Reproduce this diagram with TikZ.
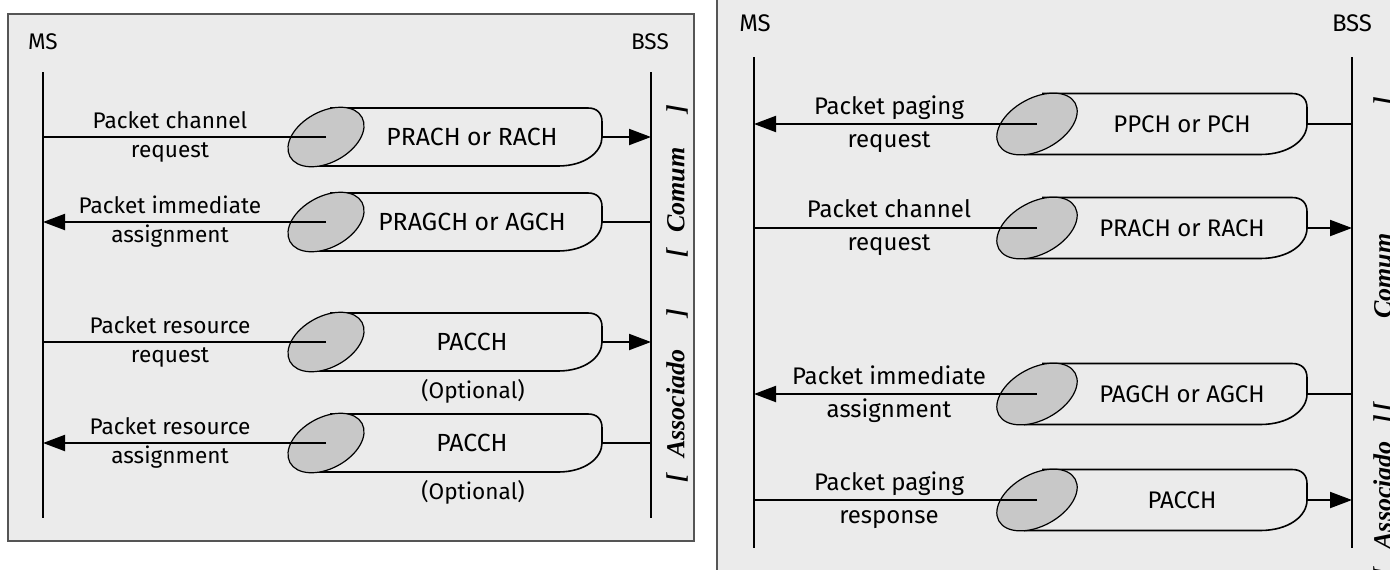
\documentclass[tikz,border=0pt]{standalone}
\usepackage{fontspec}
\setsansfont{Fira Sans}
\newfontfamily\tagfont{Liberation Serif}
\usetikzlibrary{arrows.meta,shapes.geometric}
\definecolor{panelbg}{HTML}{EBEBEB}
\definecolor{chanfill}{HTML}{C8C8C8}
\definecolor{framegray}{HTML}{555555}
\tikzset{
  msg/.style={line width=1pt},
  msgarrow/.style={msg, -{Triangle[length=11pt,width=8pt]}},
  lifeline/.style={line width=1pt},
  chanend/.style={ellipse, draw, fill=chanfill, line width=0.6pt, inner sep=0pt, rotate=28.5},
  tube/.style={draw, fill=panelbg, line width=0.8pt},
  lbl/.style={font=\sffamily\fontsize{11.3}{14.5}\selectfont, align=center, inner sep=0pt},
  lchan/.style={font=\sffamily\fontsize{12.4}{14.5}\selectfont, inner sep=0pt},
  rlbl/.style={font=\sffamily\fontsize{12}{16.5}\selectfont, align=center, inner sep=0pt},
  tag/.style={font=\tagfont\bfseries\itshape\fontsize{13}{15}\selectfont, rotate=90, inner sep=0pt},
}
\begin{document}
\begin{tikzpicture}[x=0.5pt, y=-0.5pt]
  \useasboundingbox (0,0) rectangle (1390,569);
  \clip (0,0) rectangle (1390,569);
  \fill[white] (0,0) rectangle (1390,569);

  % left panel
  \draw[framegray, line width=1pt, fill=panelbg] (8,14) rectangle (694,541);
  \node[lbl] (lms) at (43,42) {MS};
  \node[lbl] (lbss) at (650,42) {BSS};
  \coordinate (lmsA) at (43,72);
  \coordinate (lmsB) at (43,518);
  \coordinate (lbssA) at (651,72);
  \coordinate (lbssB) at (651,518);
  \draw[lifeline] (lmsA) -- (lmsB);
  \draw[lifeline] (lbssA) -- (lbssB);

  \foreach \y/\ta/\tb/\ch/\d [count=\i] in {137/Packet channel/request/PRACH or RACH/1,
      222/Packet immediate/assignment/PRAGCH or AGCH/0,
      342/Packet resource/request/PACCH/1,
      443/Packet resource/assignment/PACCH/0} {
    \coordinate (lm\i) at (43,\y);
    \coordinate (lb\i) at (651,\y);
    \coordinate (lend\i) at (602,\y);
    \draw[tube] (330,{\y-29}) -- (588,{\y-29}) .. controls (597,{\y-29}) and (602,{\y-24}) .. (602,{\y-15})
      -- (602,\y) .. controls (602,{\y+15}) and (585,{\y+29}) .. (558,{\y+29}) -- (314,{\y+29});
    \node[chanend, minimum width=41pt, minimum height=25.5pt] (lch\i) at (326,\y) {};
    \node[lchan] (lname\i) at (472,\y) {\ch};
    \node[lbl] (lmsg\i) at (170,\y) {\ta\\\tb};
    \ifnum\d=1
      \draw[msg] (lch\i.center) -- (lm\i);
      \draw[msgarrow] (lend\i) -- (lb\i);
    \else
      \draw[msgarrow] (lch\i.center) -- (lm\i);
      \draw[msg] (lend\i) -- (lb\i);
    \fi
  }
  \node[lbl] (lopt3) at (473,391) {(Optional)};
  \node[lbl] (lopt4) at (473,492) {(Optional)};
  \node[tag, anchor=west] (lcomum) at (677,258) {[\hspace{8pt}Comum\hspace{17pt}]};
  \node[tag, anchor=west] (lassoc) at (677,483) {[\hspace{8pt}Associado\hspace{16pt}]};

  % right panel
  \draw[framegray, line width=1pt, fill=panelbg] (717,-10) rectangle (1400,580);
  \node[rlbl] (rms) at (755,23) {MS};
  \node[rlbl] (rbss) at (1352,23) {BSS};
  \coordinate (rmsA) at (754,57);
  \coordinate (rmsB) at (754,548);
  \coordinate (rbssA) at (1352,57);
  \coordinate (rbssB) at (1352,548);
  \draw[lifeline] (rmsA) -- (rmsB);
  \draw[lifeline] (rbssA) -- (rbssB);

  \foreach \y/\ta/\tb/\ch/\d [count=\i] in {124/Packet paging/request/PPCH or PCH/0,
      228/Packet channel/request/PRACH or RACH/1,
      394/Packet immediate/assignment/PAGCH or AGCH/0,
      500/Packet paging/response/PACCH/1} {
    \coordinate (rm\i) at (754,\y);
    \coordinate (rb\i) at (1352,\y);
    \coordinate (rend\i) at (1307,\y);
    \draw[tube] (1042,{\y-30.5}) -- (1292,{\y-30.5}) .. controls (1302,{\y-30.5}) and (1307,{\y-25}) .. (1307,{\y-16})
      -- (1307,\y) .. controls (1307,{\y+16}) and (1289,{\y+30.5}) .. (1260,{\y+30.5}) -- (1024,{\y+30.5});
    \node[chanend, minimum width=43.5pt, minimum height=26pt] (rch\i) at (1037,\y) {};
    \node[rlbl] (rname\i) at (1182,\y) {\ch};
    \node[rlbl] (rmsg\i) at (889,\y) {\ta\\\tb};
    \ifnum\d=1
      \draw[msg] (rch\i.center) -- (rm\i);
      \draw[msgarrow] (rend\i) -- (rb\i);
    \else
      \draw[msgarrow] (rch\i.center) -- (rm\i);
      \draw[msg] (rend\i) -- (rb\i);
    \fi
  }
  \node[tag, anchor=west] (rcomum) at (1384,412) {[\hspace{42pt}Comum\hspace{64pt}]};
  \node[tag, anchor=east] (rassoc) at (1384,414) {[\hspace{9pt}Associado\hspace{9pt}]};
\end{tikzpicture}
\end{document}
